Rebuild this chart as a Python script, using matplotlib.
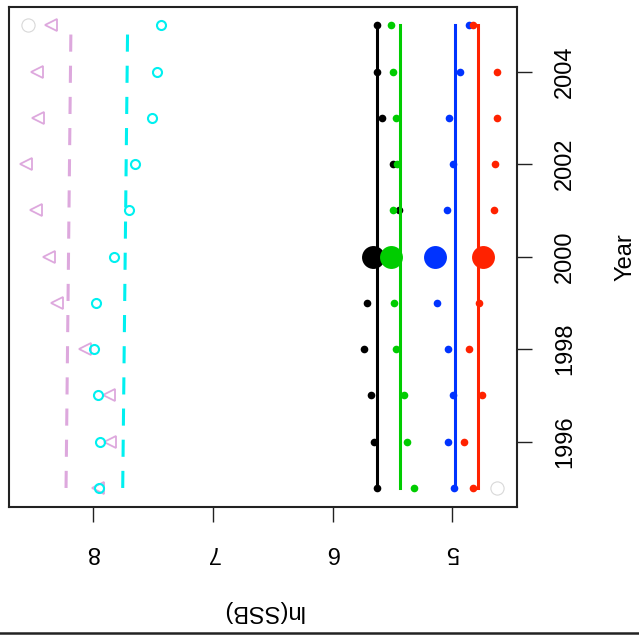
import matplotlib
matplotlib.use("Agg")
import matplotlib.pyplot as plt
from matplotlib.lines import Line2D

plt.rcParams['font.family'] = ['Liberation Sans', 'DejaVu Sans']

years = [1995, 1996, 1997, 1998, 1999, 2000, 2001, 2002, 2003, 2004, 2005]
yrs_small = [1995, 1996, 1997, 1998, 1999, 2001, 2002, 2003, 2004, 2005]

# small dots per stock (all years except 2000), big dot at 2000, and a vertical line value
black_pts = [5.627, 5.657, 5.680, 5.735, 5.716, 5.443, 5.499, 5.590, 5.632, 5.627]
green_pts = [5.318, 5.379, 5.404, 5.468, 5.488, 5.499, 5.465, 5.471, 5.499, 5.515]
blue_pts = [4.985, 5.040, 4.993, 5.040, 5.126, 5.045, 4.993, 5.026, 4.940, 4.862]
red_pts = [4.826, 4.906, 4.754, 4.862, 4.778, 4.656, 4.645, 4.626, 4.626, 4.831]
big_2000 = {'black': 5.660, 'green': 5.513, 'blue': 5.143, 'red': 4.745}
line_vals = {'black': 5.627, 'green': 5.440, 'blue': 4.979, 'red': 4.784}

cyan_pts = [7.947, 7.938, 7.955, 7.991, 7.974, 7.824, 7.696, 7.651, 7.509, 7.463, 7.435]
plum_pts = [7.960, 7.857, 7.863, 8.063, 8.297, 8.366, 8.477, 8.558, 8.456, 8.469, 8.352]
cyan_line = [7.751, 7.710]   # 1995, 2005
plum_line = [8.224, 8.183]

range_pts_x = [8.54, 4.627]
range_pts_y = [2005, 1995]

cols = {'black': 'black', 'green': '#00CC00', 'blue': '#0033FF', 'red': '#FF2200'}

fig = plt.figure(figsize=(6.39, 6.35), dpi=100)
ax = fig.add_axes([9/639, 1-506.7/635, (516.7-9)/639, 500/635])

ax.plot(range_pts_x, range_pts_y, 'o', mfc='none', mec='#d8d8d8', ms=9.5, mew=0.8)

ax.plot(plum_line, [1995, 2005], color='#DDA8DD', lw=2.2, ls=(0, (5.6, 4.6)))
ax.plot(cyan_line, [1995, 2005], color='#00F0F0', lw=2.2, ls=(0, (5.6, 4.6)))
ax.plot(plum_pts, years, '<', mfc='none', mec='#DDA8DD', ms=8.5, mew=1.3)
ax.plot(cyan_pts, years, 'o', mfc='none', mec='#00F0F0', ms=6.5, mew=1.5)

for name, pts in [('black', black_pts), ('green', green_pts), ('blue', blue_pts), ('red', red_pts)]:
    c = cols[name]
    ax.plot(pts, yrs_small, 'o', color=c, ms=5.5, mew=0)
    ax.plot([big_2000[name]], [2000], 'o', color=c, ms=16.5, mew=0)
    ax.plot([line_vals[name]] * 2, [1995, 2005], color=c, lw=2.2)

ax.set_xlim(8.70, 4.463)
ax.set_ylim(1994.595, 2005.405)
ax.set_xticks([8, 7, 6, 5])
ax.set_xticklabels(['8', '7', '6', '5'], rotation=180)
ax.yaxis.tick_right()
ax.set_yticks([1996, 1998, 2000, 2002, 2004])
ax.set_yticklabels(['1996', '1998', '2000', '2002', '2004'], rotation=90, va='center')
ax.tick_params(axis='both', length=11, width=1, labelsize=17, color='#222222')
ax.tick_params(axis='x', pad=14)
ax.tick_params(axis='y', pad=16)
for s in ax.spines.values():
    s.set_linewidth(1.5)
    s.set_color('#222222')

fig.text(263/639, 1-611/635, 'ln(SSB)', rotation=180, ha='center', va='center', fontsize=17)
fig.text(625/639, 1-256.7/635, 'Year', rotation=90, ha='center', va='center', fontsize=17)
fig.add_artist(Line2D([0, 1], [1-632.5/635, 1-632.5/635], color='#222222', lw=1.8))

fig.savefig('out.png', dpi=100)
